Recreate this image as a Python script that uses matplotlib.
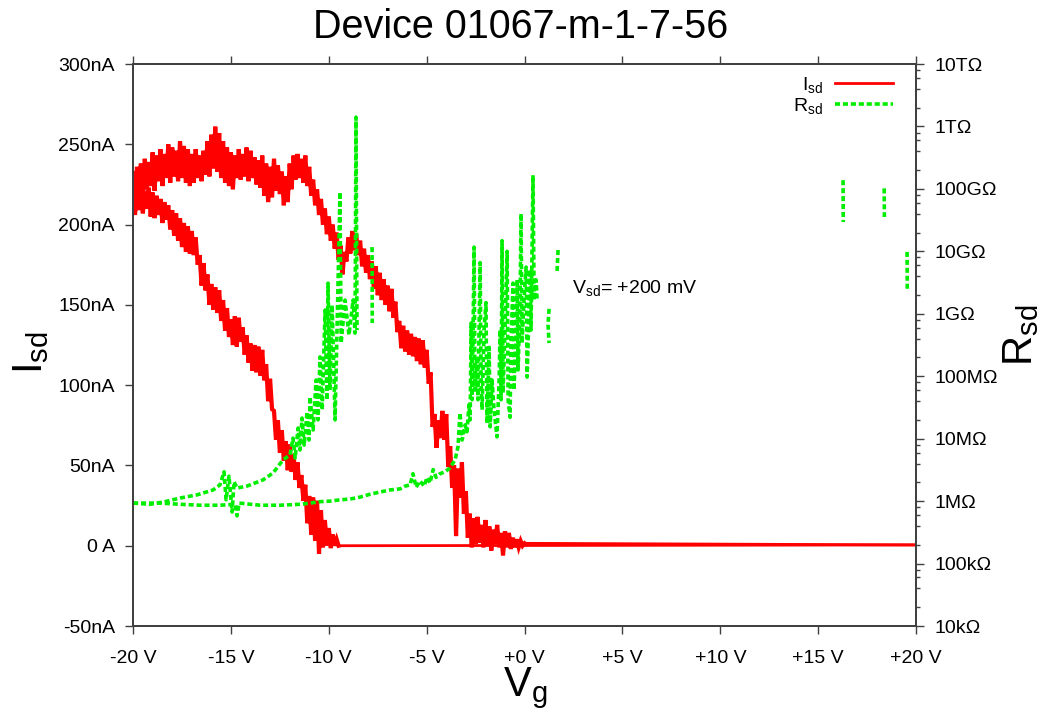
import numpy as np
import matplotlib
matplotlib.use("Agg")
import matplotlib.pyplot as plt
from matplotlib.ticker import FixedLocator, LogLocator, NullFormatter

plt.rcParams['font.family'] = ['Liberation Sans', 'DejaVu Sans']
plt.rcParams['mathtext.default'] = 'regular'

# ---------------- data ----------------
# Reverse sweep (+20 V -> -20 V): gate voltage grid (0.1 V steps) and measured current (nA)
vg_rev = list(np.round(np.arange(-20.0, 0.05, 0.1), 1)) + [20.0]
isd_rev = [232, 214, 236, 219, 238, 217, 241, 222, 239, 224,
           245, 221, 243, 227, 247, 224, 244, 229, 250, 226,
           248, 230, 246, 227, 252, 229, 249, 226, 247, 224,
           244, 226, 247, 229, 243, 227, 246, 231, 252, 230,
           256, 235, 261, 233, 257, 229, 252, 226, 248, 224,
           245, 222, 243, 229, 247, 228, 244, 230, 248, 227,
           246, 229, 242, 225, 240, 223, 243, 218, 238, 214,
           236, 217, 241, 221, 237, 219, 233, 212, 230, 214,
           238, 222, 243, 228, 244, 229, 241, 226, 243, 224,
           236, 218, 228, 212, 222, 206, 216, 200, 210, 194,
           205, 190, 200, 185, 195, 178, 187, 169, 183, 177,
           192, 182, 196, 184, 194, 181, 190, 174, 185, 170,
           181, 166, 177, 160, 174, 156, 170, 153, 166, 150,
           162, 146, 160, 142, 152, 133, 140, 123, 137, 121,
           134, 119, 132, 118, 130, 115, 129, 113, 128, 111,
           122, 101, 108, 74, 82, 61, 78, 67, 84, 66,
           82, 49, 62, 36, 50, 6, 48, 30, 52, 20,
           34, 5, 20, -1, 17, 1, 18, 2, 13, -1,
           16, 0, 12, -3, 10, 1, 13, -1, 8, -6,
           9, -1, 8, -2, 5, -1, 4, -1, 3, 0,
           1.5, 0.5]

# Forward sweep (-20 V -> +20 V)
vg_fwd = list(np.round(np.arange(-20.0, -9.45, 0.1), 1)) + [20.0]
isd_fwd = [224, 206, 222, 209, 226, 207, 221, 210, 223, 205,
           220, 204, 218, 206, 216, 201, 214, 203, 212, 197,
           209, 193, 207, 190, 204, 186, 201, 183, 199, 182,
           196, 181, 192, 175, 181, 162, 176, 159, 169, 150,
           163, 147, 161, 145, 159, 140, 153, 134, 148, 130,
           141, 125, 143, 124, 142, 127, 136, 119, 131, 114,
           126, 109, 125, 108, 124, 106, 122, 103, 113, 90,
           104, 85, 84, 66, 78, 58, 72, 53, 65, 47,
           63, 46, 57, 41, 52, 36, 44, 28, 38, 14,
           31, 7, 30, 3, 28, -5, 22, -1, 16, 0,
           11, -1.5, 7, 0, 4, 0,
           0.5]

# Source-drain resistance, forward sweep (Ohm); nan = no finite positive value
vg_r_fwd = [-20.00, -19.13, -18.37, -17.60, -16.73, -15.91, -15.56, -15.35, -15.25, -15.10,
            -14.94, -14.84, -14.69, -14.18, -13.36, -12.85, -12.34, -11.98,
            -11.83, -11.72, -11.57, -11.47, -11.37, -11.26, -11.11, -11.01, -10.96, -10.80,
            -10.65, -10.55, -10.45, -10.34, -10.19, -10.09, -10.04, -9.94, -9.83, -9.68,
            -9.58, -9.43, -9.37, -9.17, -8.97, -8.76, -8.66, -8.61, -8.56,
            np.nan, -7.79, -7.78, np.nan, 16.27, 16.28, np.nan, 18.37, 18.38, np.nan, 19.54, 19.55]
rsd_fwd = [9.3e5, 8.9e5, 9.8e5, 1.12e6, 1.26e6, 1.51e6, 1.82e6, 2.95e6, 1.05e6, 2.51e6,
           6.7e5, 2.04e6, 1.62e6, 1.74e6, 2.19e6, 2.82e6, 4.57e6, 5.5e6,
           1.02e7, 4.9e6, 1.48e7, 6.6e6, 2.14e7, 7.9e6, 2.69e7, 9.5e6, 4.68e7, 1.38e7,
           8.7e7, 2.0e7, 2.04e8, 2.9e7, 1.15e9, 4.17e7, 3.1e9, 6.0e7, 1.38e9, 2.0e7,
           5.5e8, 8.9e10, 3.4e8, 1.66e9, 4.6e8, 1.66e9, 4.9e8, 1.41e12, 5.5e8,
           np.nan, 1.17e10, 7.1e8, np.nan, 1.38e11, 2.95e10, np.nan, 1.02e11, 3.55e10, np.nan, 9.8e9, 2.4e9]

# Source-drain resistance, reverse sweep (Ohm)
vg_r_rev = [-20.00, -18.62, -17.60, -16.58, -15.56, -14.79, -14.69, -14.58, -13.51, -12.49,
            -11.47, -10.96, -10.45, -9.94, -9.43, -8.91, -8.40, -7.89, -7.38, -6.87,
            -6.36, -6.10, -5.85, -5.70, -5.54, -5.34, -5.13, -4.98, -4.83, -4.67,
            -4.52, -4.32, -4.06, -3.81, -3.55, -3.40, -3.30, -3.19, -3.04, -2.94,
            -2.84, -2.78, -2.73, -2.68, -2.63, -2.58, -2.53, -2.43, -2.38, -2.27,
            -2.22, -2.17, -2.07, -1.97, -1.92, -1.81, -1.76, -1.66, -1.56, -1.41,
            -1.30, -1.25, -1.20, -1.15, -1.10, -1.00, -0.89, -0.84, -0.74, -0.69,
            -0.59, -0.54, -0.43, -0.38, -0.33, -0.23, -0.18, -0.13, -0.03, 0.08,
            0.13, 0.23, 0.28, 0.33, 0.43, 0.49, 0.59, 0.64,
            np.nan, 1.25, 1.20, 1.25, np.nan, 1.71, 1.66]
rsd_rev = [9.3e5, 9.3e5, 8.9e5, 8.6e5, 8.6e5, 8.9e5, 5.8e5, 9.3e5, 8.6e5, 8.6e5,
           8.9e5, 9.3e5, 9.8e5, 1.0e6, 1.05e6, 1.08e6, 1.16e6, 1.29e6, 1.4e6, 1.51e6,
           1.57e6, 1.74e6, 1.82e6, 2.75e6, 1.67e6, 2.1e6, 1.74e6, 2.4e6, 1.95e6, 3.2e6,
           2.4e6, 2.75e6, 2.95e6, 3.4e6, 4.6e6, 7.4e6, 2.6e7, 9.5e6, 1.66e7, 1.29e7,
           3.5e7, 2.0e7, 7.1e8, 4.2e7, 5.5e8, 1.17e10, 6.0e7, 1.8e8, 4.2e7, 6.6e9,
           8.7e7, 2.9e7, 5.5e8, 1.51e9, 1.78e7, 2.9e8, 1.55e7, 8.7e7, 2.9e7, 1.07e7,
           8.7e7, 5.5e8, 4.2e7, 1.48e10, 5.4e7, 5.5e8, 1.0e10, 4.2e7, 2.2e7, 3.8e8,
           3.1e9, 6.0e7, 5.5e8, 3.5e9, 1.26e8, 1.66e9, 4.0e10, 3.4e8, 1.66e9, 5.6e9,
           9.7e7, 1.15e9, 5.1e9, 5.5e8, 1.66e11, 1.66e9, 3.5e9, 1.66e9,
           np.nan, 1.2e9, 6.6e8, 3.4e8, np.nan, 1.05e10, 4.7e9]

# Axis ticks
x_ticks = [-20, -15, -10, -5, 0, 5, 10, 15, 20]
x_ticklabels = ['-20 V', '-15 V', '-10 V', '-5 V', '+0 V', '+5 V', '+10 V', '+15 V', '+20 V']
i_ticks = [-50, 0, 50, 100, 150, 200, 250, 300]
i_ticklabels = ['-50nA', '0 A', '50nA', '100nA', '150nA', '200nA', '250nA', '300nA']
r_ticks = [1e4, 1e5, 1e6, 1e7, 1e8, 1e9, 1e10, 1e11, 1e12, 1e13]
r_ticklabels = ['10k\u03a9', '100k\u03a9', '1M\u03a9', '10M\u03a9', '100M\u03a9',
                '1G\u03a9', '10G\u03a9', '100G\u03a9', '1T\u03a9', '10T\u03a9']

RED = '#ff0000'
GREEN = '#00ee00'
AXCOL = '#404040'

# ---------------- figure ----------------
fig = plt.figure(figsize=(10.46, 7.13), dpi=100)
ax = fig.add_axes([0.1272, 0.122, 0.7486, 0.7882])

# noisy part of each sweep drawn thick, the flat tail at zero current thinner
ax.plot(vg_fwd[:-1], isd_fwd[:-1], color=RED, lw=3.0, solid_joinstyle='miter')
ax.plot(vg_fwd[-2:], isd_fwd[-2:], color=RED, lw=2.0)
ax.plot(vg_rev[:-1], isd_rev[:-1], color=RED, lw=3.0, solid_joinstyle='miter')
line_i, = ax.plot(vg_rev[-2:], isd_rev[-2:], color=RED, lw=2.0)

ax.set_xlim(-20, 20)
ax.set_ylim(-50, 300)
ax.xaxis.set_major_locator(FixedLocator(x_ticks))
ax.set_xticklabels(x_ticklabels)
ax.yaxis.set_major_locator(FixedLocator(i_ticks))
ax.set_yticklabels(i_ticklabels)
ax.tick_params(axis='both', direction='out', length=6, width=1.0, color=AXCOL,
               labelsize=14, pad=7)
ax.tick_params(axis='x', top=True, pad=11)
for s in ax.spines.values():
    s.set_color(AXCOL)
    s.set_linewidth(1.3)

ax2 = ax.twinx()
ax2.set_yscale('log')
ax2.set_ylim(1e4, 1e13)
ax2.plot(vg_r_fwd, rsd_fwd, color=GREEN, lw=2.6, ls=(0, (1.4, 0.8)))
line_r, = ax2.plot(vg_r_rev, rsd_rev, color=GREEN, lw=2.6, ls=(0, (1.4, 0.8)))
ax2.yaxis.set_major_locator(FixedLocator(r_ticks))
ax2.set_yticklabels(r_ticklabels)
ax2.yaxis.set_minor_locator(LogLocator(base=10, subs=(2, 4, 6, 8), numticks=20))
ax2.yaxis.set_minor_formatter(NullFormatter())
ax2.tick_params(axis='y', which='major', direction='out', length=6, width=1.0,
                color=AXCOL, labelsize=14, pad=7)
ax2.tick_params(axis='y', which='minor', direction='out', length=3, width=1.0, color=AXCOL)
for s in ax2.spines.values():
    s.set_color(AXCOL)
    s.set_linewidth(1.3)

ax2.legend([line_i, line_r], ['I$_{sd}$', 'R$_{sd}$'], loc='upper right',
           bbox_to_anchor=(0.9706, 0.981), frameon=False, markerfirst=False,
           fontsize=14, handlelength=3.0, handletextpad=0.6, labelspacing=0.05,
           borderaxespad=0, borderpad=0)

ax.text(2.43, 160.5, 'V$_{sd}$= +200 mV', fontsize=14, va='center', ha='left')

fig.text(0.498, 0.962, 'Device 01067-m-1-7-56', fontsize=28.5, ha='center', va='center')
fig.text(0.502, 0.024, 'V$_g$', fontsize=30, ha='center', va='baseline')
fig.text(0.030, 0.505, 'I$_{sd}$', fontsize=30, rotation=90, ha='center', va='center')
fig.text(0.976, 0.530, 'R$_{sd}$', fontsize=30, rotation=90, ha='center', va='center')

fig.savefig('out.png', dpi=100)
